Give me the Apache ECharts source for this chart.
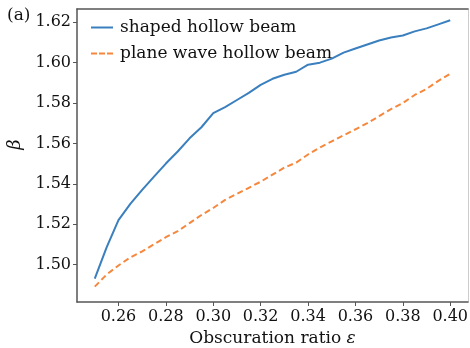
<!DOCTYPE html>
<html>
<head>
<meta charset="utf-8">
<script src="https://cdn.jsdelivr.net/npm/echarts@6/dist/echarts.min.js"></script>
<style>
  html, body { margin: 0; padding: 0; background: #fff; }
  #chart { width: 470px; height: 348px; }
</style>
</head>
<body>
<div id="chart"></div>
<script>
// obscuration ratio samples
const ratios = [0.250, 0.255, 0.260, 0.265, 0.270, 0.275, 0.280, 0.285, 0.290, 0.295,
  0.300, 0.305, 0.310, 0.315, 0.320, 0.325, 0.330, 0.335, 0.340, 0.345,
  0.350, 0.355, 0.360, 0.365, 0.370, 0.375, 0.380, 0.385, 0.390, 0.395, 0.400];
const shapedBeam = [1.493, 1.5085, 1.522, 1.530, 1.537, 1.5435, 1.550, 1.556, 1.5625, 1.568,
  1.575, 1.578, 1.5815, 1.585, 1.589, 1.592, 1.594, 1.5955, 1.599, 1.600,
  1.602, 1.605, 1.607, 1.609, 1.611, 1.6125, 1.6135, 1.6155, 1.617, 1.619, 1.621];
const planeWaveBeam = [1.489, 1.495, 1.4995, 1.5035, 1.5065, 1.510, 1.5135, 1.5165, 1.5205, 1.5245,
  1.528, 1.532, 1.535, 1.538, 1.541, 1.5445, 1.548, 1.5505, 1.5545, 1.558,
  1.561, 1.564, 1.567, 1.570, 1.5735, 1.577, 1.580, 1.584, 1.587, 1.591, 1.5945];
const xTicks = [0.26, 0.28, 0.30, 0.32, 0.34, 0.36, 0.38, 0.40];
const yTicks = [1.50, 1.52, 1.54, 1.56, 1.58, 1.60, 1.62];

const font = "DejaVu Serif";
const axisGrey = "#555";

const chart = echarts.init(document.getElementById("chart"));
const option = {
  animation: false,
  backgroundColor: "#fff",
  textStyle: { fontFamily: font },
  grid: { left: 77, right: 2, top: 9, bottom: 46, outerBoundsMode: "none" },
  legend: {
    orient: "vertical",
    left: 86,
    top: 14,
    itemWidth: 22,
    itemHeight: 2,
    itemGap: 9,
    textStyle: { fontFamily: font, fontSize: 17, color: "#111", padding: [0, 0, 0, 2] },
    data: [
      { name: "shaped hollow beam", icon: "rect" },
      { name: "plane wave hollow beam", icon: "path://M0,0h6v2h-6z M8,0h6v2h-6z M16,0h6v2h-6z" },
    ],
  },
  xAxis: [
    {
      type: "value",
      min: 0.2425,
      max: 0.4075,
      splitLine: { show: false },
      axisLine: { lineStyle: { color: axisGrey, width: 1.5 } },
      axisTick: { customValues: xTicks, length: 4, lineStyle: { color: axisGrey } },
      axisLabel: {
        customValues: xTicks,
        formatter: (v) => v.toFixed(2),
        fontFamily: font,
        fontSize: 16,
        color: "#111",
        margin: 7,
      },
      name: "Obscuration ratio {i|ε}",
      nameLocation: "middle",
      nameGap: 21,
      nameTextStyle: {
        fontFamily: font,
        fontSize: 17,
        color: "#111",
        rich: { i: { fontFamily: font, fontSize: 17, fontStyle: "italic", color: "#111" } },
      },
    },
    {
      type: "value",
      position: "top",
      min: 0.2425,
      max: 0.4075,
      splitLine: { show: false },
      axisLine: { onZero: false, lineStyle: { color: axisGrey, width: 1.5 } },
      axisTick: { show: false },
      axisLabel: { show: false },
    },
  ],
  yAxis: [
    {
      type: "value",
      min: 1.4814,
      max: 1.6266,
      splitLine: { show: false },
      axisLine: { show: true, lineStyle: { color: axisGrey, width: 1.5 } },
      axisTick: { show: true, customValues: yTicks, length: 4, lineStyle: { color: axisGrey } },
      axisLabel: {
        customValues: yTicks,
        formatter: (v) => v.toFixed(2),
        fontFamily: font,
        fontSize: 16,
        color: "#111",
        margin: 6,
      },
      name: "β",
      nameLocation: "middle",
      nameRotate: 90,
      nameGap: 48,
      nameTextStyle: {
        fontFamily: font,
        fontSize: 18,
        fontStyle: "italic",
        color: "#111",
        padding: [0, 0, 0, 22],
      },
    },
    {
      type: "value",
      position: "right",
      min: 1.4814,
      max: 1.6266,
      splitLine: { show: false },
      axisLine: { show: true, onZero: false, lineStyle: { color: "#ccc", width: 1 } },
      axisTick: { show: false },
      axisLabel: { show: false },
    },
  ],
  series: [
    {
      name: "shaped hollow beam",
      type: "line",
      symbol: "none",
      data: ratios.map((r, i) => [r, shapedBeam[i]]),
      lineStyle: { color: "#3a7fbe", width: 2 },
      itemStyle: { color: "#3a7fbe" },
    },
    {
      name: "plane wave hollow beam",
      type: "line",
      symbol: "none",
      data: ratios.map((r, i) => [r, planeWaveBeam[i]]),
      lineStyle: { color: "#f6883e", width: 2, type: [6, 3.5] },
      itemStyle: { color: "#f6883e" },
    },
  ],
  graphic: [
    {
      type: "text",
      left: 7,
      top: 7,
      style: { text: "(a)", fontFamily: font, fontSize: 17, fill: "#111" },
    },
  ],
};
chart.setOption(option);
window.addEventListener("resize", () => chart.resize());
</script>
</body>
</html>
